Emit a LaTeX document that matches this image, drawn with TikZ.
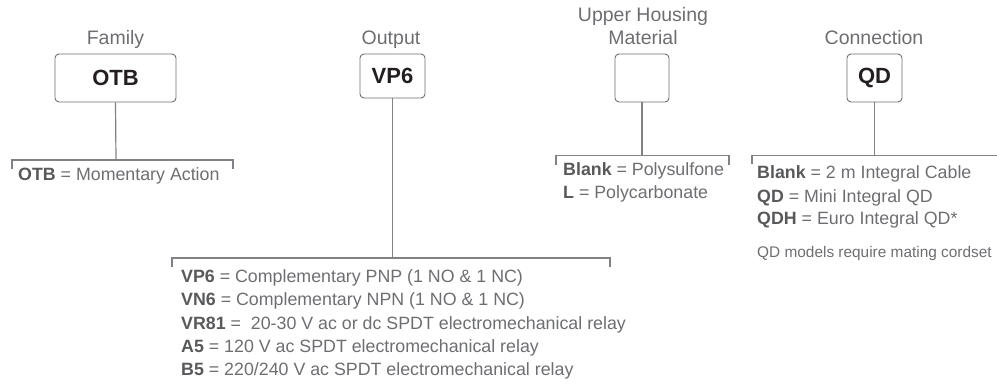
\documentclass[tikz,border=0pt]{standalone}
\usepackage{fontspec}
\setmainfont{Liberation Sans}
\definecolor{txt}{HTML}{6D6E71}
\definecolor{bld}{HTML}{58595B}
\definecolor{dark}{HTML}{231F20}
\definecolor{ln}{HTML}{808285}
\begin{document}
\begin{tikzpicture}[x=1pt,y=-1pt,
  title/.style={anchor=base, inner sep=0, text=txt, font=\fontsize{19.5}{23}\selectfont},
  codebox/.style={draw=txt, line width=0.9pt, rounded corners=4pt, inner sep=0, font=\fontsize{22}{26}\selectfont\bfseries, text=dark},
  item/.style={anchor=base west, inner sep=0, text=txt, font=\fontsize{17.8}{23}\selectfont},
  note/.style={anchor=base west, inner sep=0, text=txt, font=\fontsize{15.4}{19}\selectfont},
  conn/.style={draw=ln, line width=1.2pt}]
\useasboundingbox (0,0) rectangle (997,387);
\newcommand{\kw}[1]{\textcolor{bld}{\bfseries #1}}

% titles
\node[title] (tfam) at (115.5,45) {Family};
\node[title] (tout) at (391,45) {Output};
\node[title] (tup1) at (643,22) {Upper Housing};
\node[title] (tup2) at (643,45) {Material};
\node[title] (tcon) at (874,45) {Connection};

% boxes
\node[codebox, minimum width=121pt, minimum height=48pt] (otb) at (115.5,78) {OTB};
\node[codebox, minimum width=65pt, minimum height=44pt] (vp6) at (392.5,76) {VP6};
\node[codebox, minimum width=54pt, minimum height=48pt] (uhm) at (642,78) {};
\node[codebox, minimum width=55pt, minimum height=48pt] (qd) at (874.5,78) {QD};

% bracket coordinates
\coordinate (fb) at (116,160);
\coordinate (fbl) at (12,169); \coordinate (fbl0) at (12,160);
\coordinate (fbr) at (233,169); \coordinate (fbr0) at (233,160);

\coordinate (ob) at (392.5,258);
\coordinate (obl) at (172,267); \coordinate (obl0) at (172,258);
\coordinate (obr) at (610,267); \coordinate (obr0) at (610,258);

\coordinate (ub) at (642,155.5);
\coordinate (ubl) at (556,165); \coordinate (ubl0) at (556,155.5);
\coordinate (ubr) at (729,165); \coordinate (ubr0) at (729,155.5);

\coordinate (cb) at (874.5,155.5);
\coordinate (cbl) at (752,164); \coordinate (cbl0) at (752,155.5);
\coordinate (cbr0) at (997,155.5);

% connectors
\draw[conn] (otb.south) -- (fb);
\draw[conn] (fbl) -- (fbl0) -- (fbr0) -- (fbr);
\draw[conn] (vp6.south) -- (ob);
\draw[conn] (obl) -- (obl0) -- (obr0) -- (obr);
\draw[conn] (uhm.south) -- (ub);
\draw[conn] (ubl) -- (ubl0) -- (ubr0) -- (ubr);
\draw[conn] (qd.south) -- (cb);
\draw[conn] (cbl) -- (cbl0) -- (cbr0);

% item texts
\node[item] (f1) at (18,181) {\kw{OTB} = Momentary Action};

\node[item] (o1) at (181,282.7) {\kw{VP6} = Complementary PNP (1 NO \& 1 NC)};
\node[item] (o2) at (181,306) {\kw{VN6} = Complementary NPN (1 NO \& 1 NC)};
\node[item] (o3) at (181,329.3) {\kw{VR81} = \ 20-30 V ac or dc SPDT electromechanical relay};
\node[item] (o4) at (181,352.7) {\kw{A5} = 120 V ac SPDT electromechanical relay};
\node[item] (o5) at (181,376) {\kw{B5} = 220/240 V ac SPDT electromechanical relay};

\node[item] (u1) at (563,176) {\kw{Blank} = Polysulfone};
\node[item] (u2) at (563,198.5) {\kw{L} = Polycarbonate};

\node[item] (c1) at (757,179) {\kw{Blank} = 2 m Integral Cable};
\node[item] (c2) at (757,202.5) {\kw{QD} = Mini Integral QD};
\node[item] (c3) at (757,225) {\kw{QDH} = Euro Integral QD*};
\node[note] (c4) at (757,258) {QD models require mating cordset};
\end{tikzpicture}
\end{document}
